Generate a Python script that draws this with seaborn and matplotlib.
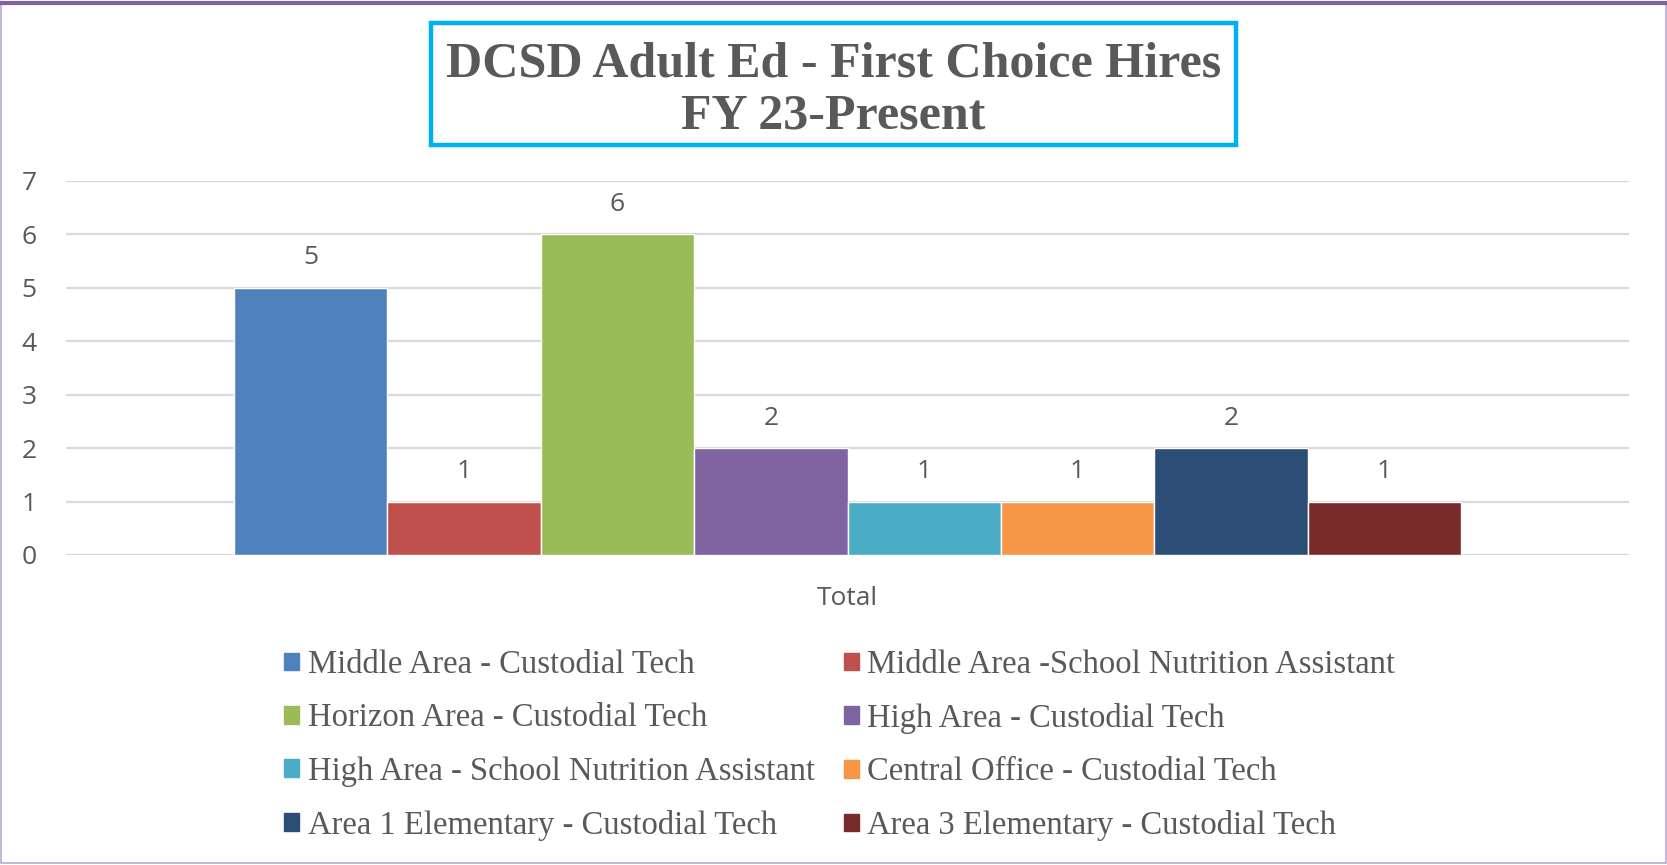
import pandas as pd
import numpy as np
import matplotlib.pyplot as plt
import seaborn as sns
from matplotlib.patches import Rectangle
from matplotlib.lines import Line2D

# chart data
category = ['Total']
positions = ['Middle Area - Custodial Tech',
             'Middle Area -School Nutrition Assistant',
             'Horizon Area - Custodial Tech',
             'High Area - Custodial Tech',
             'High Area - School Nutrition Assistant',
             'Central Office - Custodial Tech',
             'Area 1 Elementary - Custodial Tech',
             'Area 3 Elementary - Custodial Tech']
hires = [5, 1, 6, 2, 1, 1, 2, 1]
colors = ['#4F81BD', '#C0504D', '#9BBB59', '#8064A2',
          '#4BACC6', '#F79646', '#2C4D75', '#772C2A']
title_lines = ['DCSD Adult Ed - First Choice Hires', 'FY 23-Present']

df = pd.DataFrame({'cat': category * len(positions), 'pos': positions, 'val': hires})

sns.set_style('white')
txt_col = '#595959'

fig = plt.figure(figsize=(16.67, 8.65), dpi=100)
ax = fig.add_axes([0.0396, 0.3584, 0.9376, 0.4324])

sns.barplot(data=df, x='cat', y='val', hue='pos', hue_order=positions,
            palette=colors, width=0.8, saturation=1, legend=False, ax=ax)

for c in ax.containers:
    ax.bar_label(c, fmt='%d', padding=12.5, fontsize=19, color=txt_col,
                 family='Open Sans')

ax.set_xlim(-0.5096, 0.5096)
ax.set_ylim(0, 7)
ax.set_yticks(range(0, 8))
ax.yaxis.grid(True, color='#D9D9D9', linewidth=1.6)
ax.set_axisbelow(True)
for s in ax.spines.values():
    s.set_visible(False)
ax.set_xlabel('')
ax.set_ylabel('')
ax.tick_params(axis='both', length=0, labelsize=19, labelcolor=txt_col)
ax.tick_params(axis='y', pad=21)
ax.tick_params(axis='x', pad=22)
for lbl in ax.get_xticklabels() + ax.get_yticklabels():
    lbl.set_family('Open Sans')

# title box
fig.patches.append(Rectangle((0.2586, 0.8324), 0.4829, 0.141, transform=fig.transFigure,
                             fill=False, edgecolor='#00B0F0', linewidth=3.2))
fig.text(0.5, 0.926, title_lines[0], ha='center', va='center', fontsize=36,
         fontweight='bold', family='Liberation Serif', color=txt_col)
fig.text(0.5, 0.865, title_lines[1], ha='center', va='center', fontsize=36,
         fontweight='bold', family='Liberation Serif', color=txt_col)

# legend, row-major order like the original
handles = [Rectangle((0, 0), 1, 1, color=c) for c in colors]
order = [0, 2, 4, 6, 1, 3, 5, 7]
leg = fig.legend([handles[i] for i in order], [positions[i] for i in order],
                 ncol=2, loc='upper left', bbox_to_anchor=(0.153, 0.283),
                 frameon=False, handlelength=0.46, handleheight=0.46,
                 handletextpad=0.25, columnspacing=0.89, labelspacing=0.70,
                 prop={'family': 'Liberation Serif', 'size': 23.5})
for t in leg.get_texts():
    t.set_color(txt_col)

# outer border
fig.patches.append(Rectangle((0.0006, 0.002), 0.9988, 0.994, transform=fig.transFigure,
                             fill=False, edgecolor='#B9A9D6', linewidth=1.2))
fig.lines.append(Line2D([0, 1], [0.9965, 0.9965], transform=fig.transFigure,
                        color='#7F63A1', linewidth=3))

fig.savefig('out.png', dpi=100, facecolor='white')
